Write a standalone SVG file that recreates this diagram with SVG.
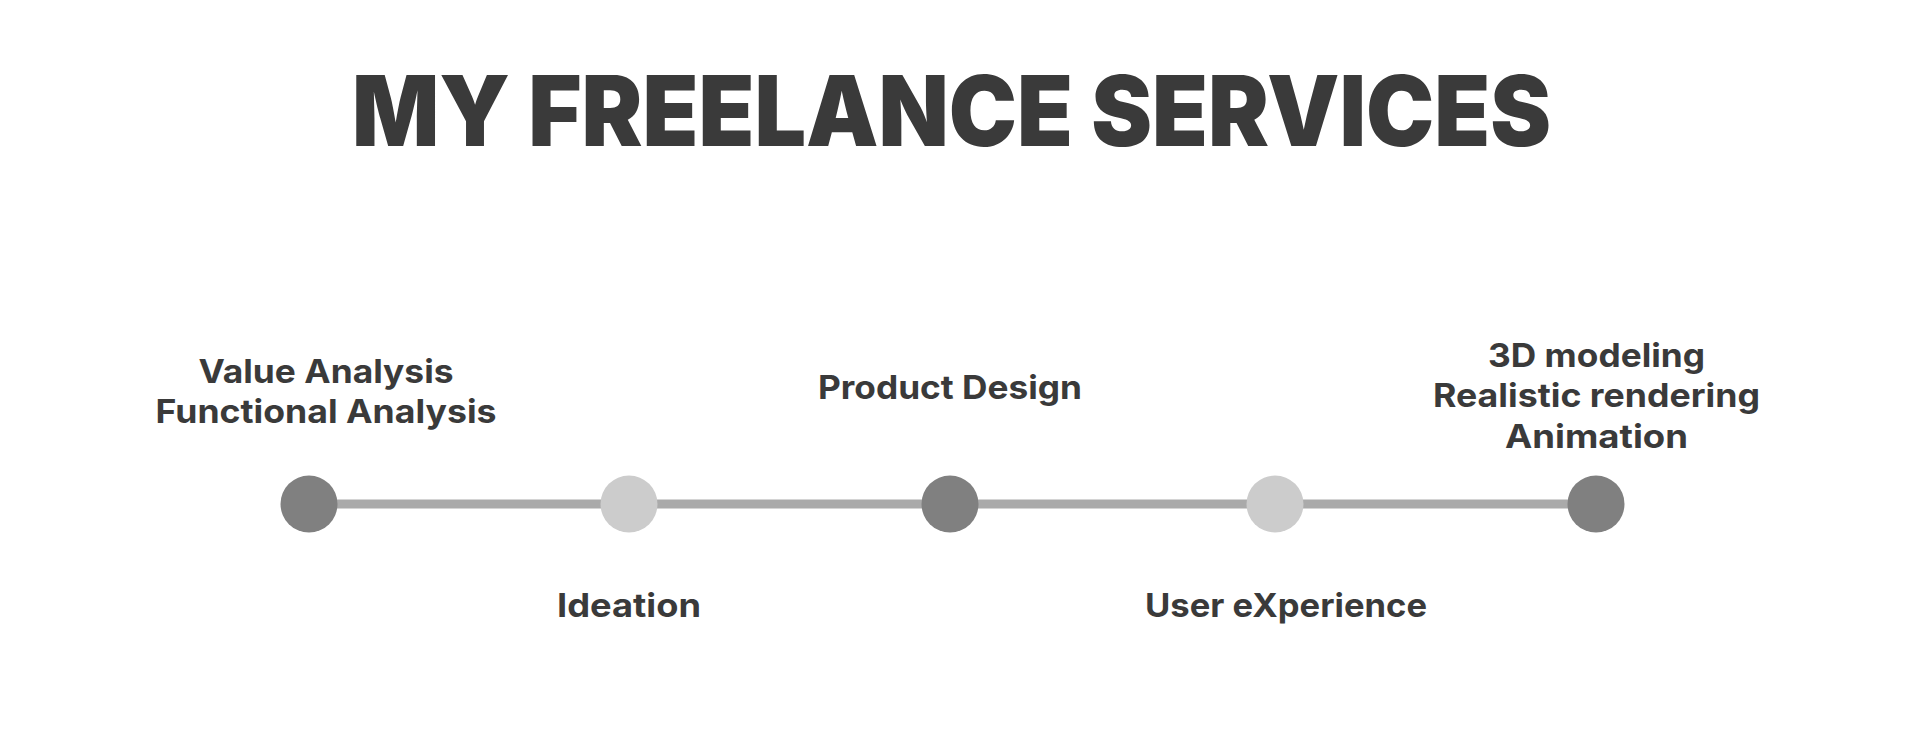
<svg xmlns="http://www.w3.org/2000/svg" width="1920" height="756" viewBox="0 0 1920 756">
  <style>
    .title { font-family: Inter, "Open Sans", "Liberation Sans", sans-serif; font-weight: 900; font-size: 97px; fill: #3a3a3a; }
    .label { font-family: Inter, "Open Sans", "Liberation Sans", sans-serif; font-weight: 700; font-size: 33px; fill: #3a3a3a; }
    .dot-dark { fill: #808080; }
    .dot-light { fill: #cccccc; }
    .link { stroke: #aaaaaa; stroke-width: 9; fill: none; }
  </style>
  <rect width="1920" height="756" fill="#ffffff"/>

  <text class="title" x="951.5" y="146" text-anchor="middle" textLength="1199" lengthAdjust="spacingAndGlyphs">MY FREELANCE SERVICES</text>

  <!-- timeline segments between the service points -->
  <g id="connectors">
    <line class="link" x1="309" y1="504" x2="629" y2="504"/>
    <line class="link" x1="629" y1="504" x2="950" y2="504"/>
    <line class="link" x1="950" y1="504" x2="1275" y2="504"/>
    <line class="link" x1="1275" y1="504" x2="1596" y2="504"/>
  </g>

  <g id="node-analysis">
    <circle class="dot-dark" cx="309" cy="504" r="28.5"/>
    <text class="label" x="326" y="383" text-anchor="middle" textLength="255" lengthAdjust="spacingAndGlyphs">Value Analysis</text>
    <text class="label" x="326" y="423" text-anchor="middle" textLength="341" lengthAdjust="spacingAndGlyphs">Functional Analysis</text>
  </g>

  <g id="node-ideation">
    <circle class="dot-light" cx="629" cy="504" r="28.5"/>
    <text class="label" x="629" y="617" text-anchor="middle" textLength="144" lengthAdjust="spacingAndGlyphs">Ideation</text>
  </g>

  <g id="node-product-design">
    <circle class="dot-dark" cx="950" cy="504" r="28.5"/>
    <text class="label" x="950" y="399" text-anchor="middle" textLength="264" lengthAdjust="spacingAndGlyphs">Product Design</text>
  </g>

  <g id="node-user-experience">
    <circle class="dot-light" cx="1275" cy="504" r="28.5"/>
    <text class="label" x="1286" y="617" text-anchor="middle" textLength="282" lengthAdjust="spacingAndGlyphs">User eXperience</text>
  </g>

  <g id="node-3d">
    <circle class="dot-dark" cx="1596" cy="504" r="28.5"/>
    <text class="label" x="1596.5" y="367" text-anchor="middle" textLength="217" lengthAdjust="spacingAndGlyphs">3D modeling</text>
    <text class="label" x="1596.5" y="407" text-anchor="middle" textLength="327" lengthAdjust="spacingAndGlyphs">Realistic rendering</text>
    <text class="label" x="1596.5" y="448" text-anchor="middle" textLength="183" lengthAdjust="spacingAndGlyphs">Animation</text>
  </g>
</svg>
